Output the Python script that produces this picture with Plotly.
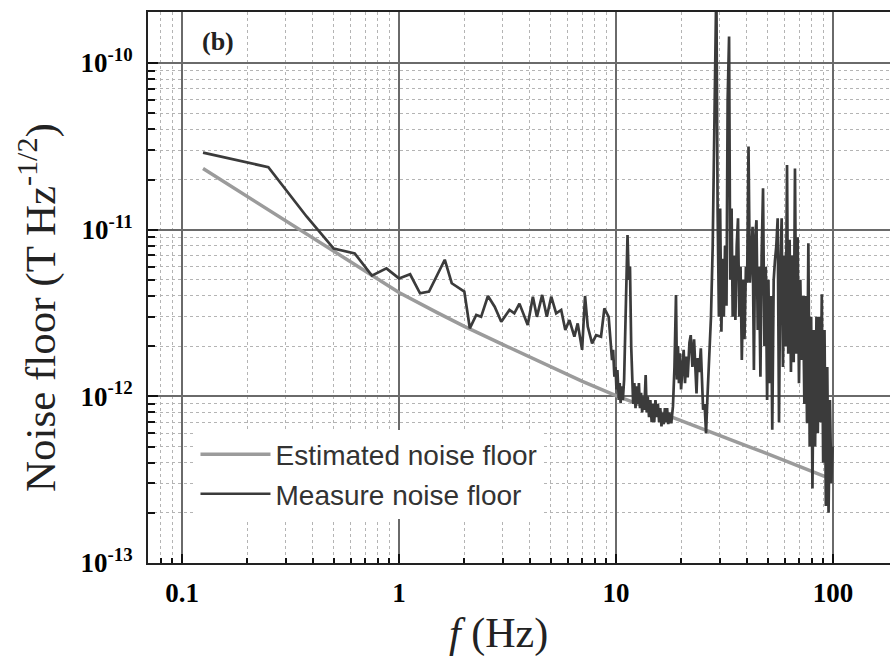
import numpy as np
import plotly.graph_objects as go

# ---------------- data (noise in units of 1e-12 T Hz^-1/2) ----------------
f_est = [0.125, 0.2, 0.3, 0.5, 0.75, 1, 1.5, 2, 3, 5, 7, 10, 20, 40, 60, 80, 92]
b_est = [23.3, 15.8, 11.3, 7.5, 5.3, 4.2, 3.18, 2.63, 2.05, 1.5, 1.23, 1.01,
         0.71, 0.505, 0.412, 0.356, 0.33]

# measured spectrum, 0.125 - 10 Hz
f_meas_low = [
    0.125, 0.25, 0.375, 0.5, 0.625, 0.75, 0.875, 1.0, 1.125, 1.25, 1.375, 1.625, 1.75, 2.0, 2.12,
    2.27, 2.39, 2.57, 2.76, 2.96, 3.23, 3.40, 3.59, 3.92, 4.14, 4.32, 4.57, 4.80, 5.03, 5.30,
    5.59, 5.84, 6.10, 6.43, 6.66, 6.98, 7.20, 7.41, 7.76, 8.10, 8.53, 8.84, 9.25, 9.45, 9.59,
    9.70, 9.83, 9.95]
b_meas_low = [
    29.0, 23.7, 12.0, 7.7, 7.2, 5.3, 5.86, 5.1, 5.4, 4.15, 4.25, 6.6, 4.77, 4.25, 2.56,
    3.08, 3.0, 4.0, 3.45, 2.8, 3.3, 3.15, 3.6, 2.68, 3.96, 3.0, 4.06, 3.0, 3.96, 3.15,
    3.3, 2.5, 2.87, 2.28, 2.74, 1.9, 4.0, 2.62, 2.08, 2.33, 2.28, 3.37, 3.0, 2.0, 1.65,
    1.9, 1.31, 1.5]

# measured spectrum, 10 - 28 Hz
f_meas_mid = [
    10.05, 10.15, 10.3, 10.4, 10.5, 10.6, 10.75, 10.9, 11.1, 11.3, 11.45, 11.6, 11.75, 11.9,
    12.0, 12.15, 12.3, 12.45, 12.6, 12.75, 12.9, 13.05, 13.2, 13.35, 13.5, 13.7, 13.85, 14.0,
    14.2, 14.4, 14.6, 14.8, 15.0, 15.2, 15.4, 15.6, 15.8, 16.0, 16.2, 16.4, 16.6, 16.8, 17.0,
    17.2, 17.4, 17.6, 17.8, 18.0, 18.3, 18.6, 18.9, 19.1, 19.3, 19.5, 19.7, 19.95, 20.2, 20.5,
    20.8, 21.1, 21.4, 21.8, 22.1, 22.5, 22.9, 23.2, 23.5, 23.8, 24.2, 24.6, 24.9, 25.2, 25.6,
    26.0, 26.4, 26.9, 27.4, 27.9]
b_meas_mid = [
    1.1, 1.44, 0.95, 1.2, 0.91, 1.15, 0.95, 1.26, 3.0, 9.3, 5.0, 6.0, 2.0, 1.26,
    0.9, 1.2, 0.85, 1.15, 0.9, 1.2, 0.85, 1.05, 0.8, 1.0, 0.83, 1.34, 0.8, 1.0,
    0.75, 0.95, 0.7, 0.9, 0.7, 0.95, 0.75, 0.9, 0.7, 0.85, 0.66, 0.8, 0.68, 0.85, 0.7,
    0.85, 0.68, 0.8, 0.7, 0.7, 0.87, 1.5, 4.06, 1.26, 2.0, 1.2, 1.81, 1.1, 1.37, 1.9,
    1.2, 1.73, 1.3, 2.1, 2.33, 1.5, 2.2, 1.6, 1.04, 1.7, 1.4, 1.94, 1.2, 0.83, 0.9,
    0.60, 1.0, 1.65, 3.0, 7.9]

# measured spectrum, 28 - 100 Hz
f_meas_high = [
    28.3, 28.6, 29.0, 29.4, 29.8, 30.2, 30.6, 31.0, 31.4, 31.8, 32.3, 32.7, 33.2, 33.6, 34.1,
    34.5, 35.0, 35.5, 36.0, 36.5, 37.0, 37.5, 38.0, 38.6, 39.1, 39.7, 40.2, 40.8, 41.4, 42.0,
    42.6, 43.2, 43.8, 44.4, 45.0, 45.6, 46.3, 46.9, 47.6, 48.3, 49.0, 49.7, 50.4, 51.1, 51.8,
    52.5, 53.3, 54.0, 54.8, 55.6, 56.4, 57.2, 58.0, 58.8, 59.7, 60.5, 61.4, 62.2, 63.1, 64.0,
    64.9, 65.9, 66.8, 67.8, 68.7, 69.7, 70.7, 71.7, 72.8, 73.8, 74.9, 75.9, 77.0, 78.1, 79.3,
    80.4, 81.6, 82.7, 83.9, 85.1, 86.3, 87.6, 88.8, 90.1, 91.4, 92.7, 94.1, 95.4, 96.8, 98.2,
    99.6]
b_meas_high = [
    40, 134, 300, 13, 3, 13.4, 2.44, 6.7, 3, 8, 3.5, 60, 144, 5, 13.4,
    3, 7, 2.87, 8, 11.7, 3, 6, 1.65, 5, 2.2, 6, 4.8, 31.5, 4.8, 7,
    10.4, 1.44, 9, 11.4, 2.5, 6, 1.31, 7, 17.7, 2, 6, 0.95, 5, 1.2, 4,
    0.63, 5, 6.5, 8, 11.7, 0.7, 6, 11.7, 1.5, 7, 2, 24.4, 1.8, 8.7, 1.4,
    7, 1.6, 23.3, 1.8, 9, 1.2, 5, 1.65, 4, 0.9, 4, 0.69, 8.3, 0.5, 3,
    0.28, 2.5, 0.5, 3, 0.6, 3, 0.7, 4.1, 0.4, 2.5, 0.22, 1.5, 0.2, 0.95, 0.3,
    0.5]

f_meas = f_meas_low + f_meas_mid + f_meas_high
b_meas = b_meas_low + b_meas_mid + b_meas_high

x_ticks = [0.1, 1, 10, 100]
x_ticktext = ["0.1", "1", "10", "100"]
y_ticks = [1e-13, 1e-12, 1e-11, 1e-10]
y_ticktext = ["10<sup>-13</sup>", "10<sup>-12</sup>", "10<sup>-11</sup>", "10<sup>-10</sup>"]

UNIT = 1e-12

fig = go.Figure()
fig.add_trace(go.Scatter(
    x=f_est, y=np.array(b_est) * UNIT, mode="lines", name="Estimated noise floor",
    line=dict(color="#9b9b9b", width=3.5)))
fig.add_trace(go.Scatter(
    x=f_meas, y=np.array(b_meas) * UNIT, mode="lines", name="Measure noise floor",
    line=dict(color="#3b3b3b", width=2.7)))

x_minor = [0.08, 0.09] + [m * d for d in (0.1, 1, 10) for m in range(2, 10)] + [200]
y_minor = [m * d for d in (1e-13, 1e-12, 1e-11, 1e-10) for m in range(2, 10)]

tick_font = dict(family="Liberation Serif", size=27, color="black", weight="bold")

fig.update_xaxes(
    type="log", range=[-1.1567, 2.2627],
    tickmode="array", tickvals=x_ticks, ticktext=x_ticktext,
    ticks="inside", ticklen=9, tickwidth=2, tickcolor="#111",
    tickfont=tick_font, ticklabelstandoff=5,
    showline=True, linecolor="#222", linewidth=2, mirror=True,
    showgrid=True, gridcolor="#6a6a6a", gridwidth=1.5,
    minor=dict(tickmode="array", tickvals=x_minor, ticks="inside", ticklen=5,
               tickwidth=2, tickcolor="#111", showgrid=True,
               gridcolor="#b4b4b4", griddash="dot", gridwidth=1),
    zeroline=False,
)
fig.update_yaxes(
    type="log", range=[-13, -9.694],
    tickmode="array", tickvals=y_ticks, ticktext=y_ticktext,
    ticks="inside", ticklen=10, tickwidth=2, tickcolor="#111",
    tickfont=tick_font, ticklabelstandoff=8,
    showline=True, linecolor="#222", linewidth=2, mirror=False,
    showgrid=True, gridcolor="#6a6a6a", gridwidth=1.5,
    minor=dict(tickmode="array", tickvals=y_minor, ticks="inside", ticklen=7,
               tickwidth=2, tickcolor="#111", showgrid=True,
               gridcolor="#b4b4b4", griddash="dot", gridwidth=1),
    zeroline=False,
)

fig.update_layout(
    width=890, height=658,
    margin=dict(l=148, r=0, t=12, b=95),
    paper_bgcolor="white", plot_bgcolor="white",
    showlegend=True,
    legend=dict(
        x=0.064, y=0.242, xanchor="left", yanchor="top",
        bgcolor="white", borderwidth=0,
        font=dict(family="Liberation Sans", size=28, color="#333"),
        itemwidth=70, tracegroupgap=0,
    ),
    annotations=[
        dict(text="<b>(b)</b>", xref="paper", yref="paper", x=0.0943, y=0.9456,
             showarrow=False, xanchor="center", yanchor="middle",
             font=dict(family="Liberation Serif", size=26, color="#222")),
        dict(text="Noise floor (T Hz<sup>-1/2</sup>)", xref="paper", yref="paper",
             x=-0.148, y=0.463, textangle=-90, showarrow=False,
             xanchor="center", yanchor="middle",
             font=dict(family="Liberation Serif", size=43, color="#222")),
        dict(text="<i>f</i> (Hz)", xref="paper", yref="paper",
             x=0.4717, y=-0.128, showarrow=False, xanchor="center", yanchor="middle",
             font=dict(family="Liberation Serif", size=42, color="#222")),
    ],
)

fig.write_html("out.html")
